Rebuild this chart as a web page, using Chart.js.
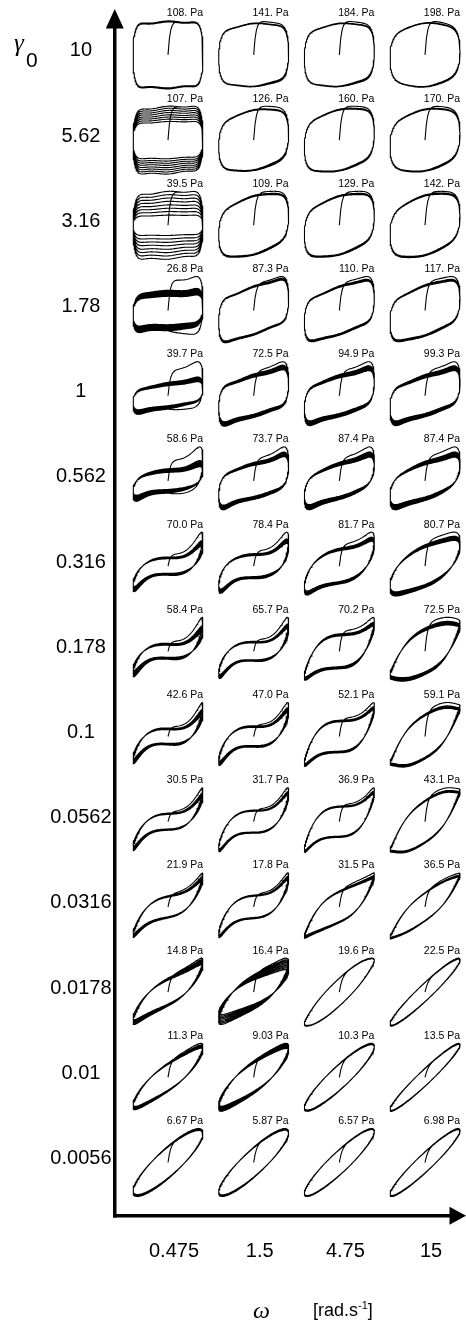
<!DOCTYPE html>
<html>
<head>
<meta charset="utf-8">
<script src="https://cdn.jsdelivr.net/npm/chart.js@4.4.1/dist/chart.umd.min.js"></script>
<style>
  html, body { margin: 0; padding: 0; background: #fff; }
  #wrap { position: relative; width: 466px; height: 1325px; }
</style>
</head>
<body>
<div id="wrap"><canvas id="pipkin"></canvas></div>
<script>
// Strain amplitudes (rows, top to bottom) and angular frequencies (columns)
const GAMMA_LABELS = ['10', '5.62', '3.16', '1.78', '1', '0.562', '0.316', '0.178', '0.1', '0.0562', '0.0316', '0.0178', '0.01', '0.0056'];
const OMEGA_LABELS = ['0.475', '1.5', '4.75', '15'];

// Peak stress of each Lissajous loop [Pa], one array per frequency, rows top to bottom
const STRESS_W0_475 = [108, 107, 39.5, 26.8, 39.7, 58.6, 70.0, 58.4, 42.6, 30.5, 21.9, 14.8, 11.3, 6.67];
const STRESS_W1_5   = [141, 126, 109, 87.3, 72.5, 73.7, 78.4, 65.7, 47.0, 31.7, 17.8, 16.4, 9.03, 5.87];
const STRESS_W4_75  = [184, 160, 129, 110, 94.9, 87.4, 81.7, 70.2, 52.1, 36.9, 31.5, 19.6, 10.3, 6.57];
const STRESS_W15    = [198, 170, 142, 117, 99.3, 87.4, 80.7, 72.5, 59.1, 43.1, 36.5, 22.5, 13.5, 6.98];

// Loop shape: in-phase (elastic) weight, its strain-stiffening 3rd harmonic,
// out-of-phase (viscous) weight and its plateau squareness; per row, per column
const ELASTIC = [
  [0.02, 0.08, 0.10, 0.10], [0.05, 0.20, 0.22, 0.20], [0.05, 0.30, 0.30, 0.30], [0.10, 0.35, 0.35, 0.35],
  [0.25, 0.35, 0.38, 0.38], [0.30, 0.40, 0.45, 0.45], [0.60, 0.55, 0.55, 0.55], [0.60, 0.60, 0.60, 0.60],
  [0.60, 0.60, 0.60, 0.65], [0.65, 0.60, 0.60, 0.70], [0.70, 0.65, 0.70, 0.75], [0.75, 0.70, 0.85, 0.90],
  [0.80, 0.75, 0.80, 0.90], [0.85, 0.85, 0.88, 0.90]
];
const STIFFENING = [
  [0, 0, 0, 0], [0, 0, 0, 0], [0, 0, 0, 0], [0.30, 0, 0, 0],
  [0.10, 0.05, 0.08, 0.05], [0.25, 0.12, 0.10, 0.08], [0.33, 0.30, 0.20, 0.08], [0.36, 0.34, 0.28, 0.08],
  [0.36, 0.34, 0.30, 0.06], [0.30, 0.32, 0.30, 0.05], [0.22, 0.28, 0.12, 0.05], [0.10, 0.08, 0, 0],
  [0.05, 0.05, 0, 0], [0, 0, 0, 0]
];
const VISCOUS = [
  [1, 1, 1, 1], [1, 1, 1, 1], [1, 1, 1, 1], [0.55, 0.80, 0.80, 0.80],
  [0.50, 0.70, 0.68, 0.68], [0.40, 0.60, 0.60, 0.60], [0.38, 0.48, 0.55, 0.60], [0.32, 0.38, 0.50, 0.55],
  [0.30, 0.36, 0.45, 0.50], [0.28, 0.36, 0.42, 0.48], [0.32, 0.36, 0.38, 0.33], [0.38, 0.45, 0.36, 0.27],
  [0.40, 0.42, 0.35, 0.25], [0.47, 0.43, 0.37, 0.30]
];
const SQUARENESS = [
  [0.22, 0.15, 0.14, 0.10], [0.22, 0.12, 0.12, 0.10], [0.22, 0.12, 0.12, 0.10], [0.22, 0.20, 0.18, 0.15],
  [0.22, 0.22, 0.20, 0.20], [0.22, 0.22, 0.18, 0.15], [0.22, 0.22, 0.10, 0.05], [0.20, 0.20, 0, -0.10],
  [0.15, 0.15, 0, -0.15], [0.10, 0.12, 0, -0.15], [0, 0.08, -0.10, -0.12], [0, 0, -0.05, 0],
  [0, 0, 0, 0], [0, 0, 0, 0]
];
// First-cycle stress overshoot and cycle-to-cycle drift of the loops
const OVERSHOOT = [
  [0, 0.06, 0.06, 0.05], [0, 0.08, 0.06, 0.06], [0, 0.06, 0.06, 0.05], [0.35, 0.05, 0.08, 0.08],
  [0.45, 0.10, 0.12, 0.12], [0.40, 0.15, 0.15, 0.15], [0.25, 0.20, 0.15, 0.12], [0.25, 0.20, 0.15, 0.12],
  [0.20, 0.15, 0.12, 0.10], [0.15, 0.12, 0.10, 0.08], [0.10, 0.10, 0.08, 0.06], [0.05, 0.05, 0, 0],
  [0.05, 0, 0, 0], [0, 0, 0, 0]
];
const CYCLE_SPREAD = [
  [0.03, 0.02, 0.02, 0.02], [0.45, 0.03, 0.03, 0.03], [0.70, 0.04, 0.04, 0.04], [0.30, 0.06, 0.06, 0.06],
  [0.25, 0.15, 0.16, 0.16], [0.30, 0.16, 0.18, 0.18], [0.20, 0.16, 0.14, 0.14], [0.25, 0.15, 0.12, 0.12],
  [0.20, 0.15, 0.10, 0.08], [0.15, 0.10, 0.08, 0.06], [0.12, 0.10, 0.08, 0.05], [0.15, 0.30, 0.02, 0.03],
  [0.10, 0.15, 0.04, 0.03], [0.06, 0.05, 0.03, 0.03]
];
// Relative position of each recorded cycle within the drift band
const CYCLE_POSITIONS = [0, 0.14, 0.28, 0.42, 0.57, 0.71, 0.85, 1];

const STRESS_BY_FREQ = [STRESS_W0_475, STRESS_W1_5, STRESS_W4_75, STRESS_W15];
const ROWS = GAMMA_LABELS.length;
const HALF_W = 0.4085;   // loop half-width in column units
const HALF_H = 0.399;    // loop half-height in row units
const LABEL_RISE = 0.487;
const STEPS = 160;

function stressShape(t, r, c) {
  const A = ELASTIC[r][c], e = STIFFENING[r][c], B = VISCOUS[r][c], v = SQUARENESS[r][c];
  const elastic = A * (Math.sin(t) - e * Math.sin(3 * t));
  const viscous = B * (Math.cos(t) - v * Math.cos(3 * t) + 0.32 * v * Math.cos(5 * t));
  return elastic + viscous;
}

function buildLoop(r, c) {
  const peak = STRESS_BY_FREQ[c][r];
  let norm = 0;
  for (let i = 0; i < 720; i++) norm = Math.max(norm, Math.abs(stressShape(2 * Math.PI * i / 720, r, c)));
  const ov = OVERSHOOT[r][c], spread = CYCLE_SPREAD[r][c];
  const cx = c, cy = ROWS - 1 - r;
  const pts = [];
  const add = (t, f) => {
    const sigma = peak * f * stressShape(t, r, c) / norm;   // stress in Pa
    pts.push({ x: cx + HALF_W * Math.sin(t), y: cy + HALF_H * sigma / peak });
  };
  // start-up from rest: stress builds up and overshoots during the first half cycle
  const half = STEPS / 2;
  for (let i = 0; i <= half; i++) {
    const t = Math.PI * i / half;
    const ramp = 1 - Math.exp(-t / 0.06);
    const m = t <= Math.PI / 2 ? 1 : 1 - ov * (1 - Math.cos(t - Math.PI / 2));
    add(t, ramp * m);
  }
  pts.push({ x: NaN, y: NaN });
  // subsequent cycles
  CYCLE_POSITIONS.forEach(pos => {
    const f = (1 - ov) * (1 - spread * pos);
    for (let i = 0; i <= STEPS; i++) add(Math.PI + 2 * Math.PI * i / STEPS, f);
    pts.push({ x: NaN, y: NaN });
  });
  return pts;
}

const datasets = [];
for (let r = 0; r < ROWS; r++) {
  for (let c = 0; c < OMEGA_LABELS.length; c++) {
    datasets.push({
      data: buildLoop(r, c),
      showLine: true,
      spanGaps: false,
      borderColor: '#000',
      borderWidth: 1.1,
      pointRadius: 0,
      tension: 0,
      clip: false
    });
  }
}

function formatStress(v) {
  let s = v.toPrecision(3);
  if (s.indexOf('.') < 0) s += '.';
  return s + ' Pa';
}

const SANS = '"Liberation Sans", Arial, Helvetica, sans-serif';
const SERIF = '"Liberation Serif", "Times New Roman", serif';

const decorations = {
  id: 'decorations',
  afterDraw(chart) {
    const { ctx, chartArea: a, scales: { x, y } } = chart;
    const bw = 3.5;
    const ax = Math.round(a.left - bw / 2) + bw / 2;
    const ay = Math.round(a.bottom - bw / 2) + bw / 2;
    ctx.save();
    ctx.fillStyle = '#000';
    // axis corner and arrowheads
    ctx.fillRect(ax - bw / 2, ay - bw / 2, bw, bw);
    ctx.beginPath();
    ctx.moveTo(ax, a.top - 19);
    ctx.lineTo(ax - 9, a.top + 0.5);
    ctx.lineTo(ax + 9, a.top + 0.5);
    ctx.closePath();
    ctx.fill();
    ctx.beginPath();
    ctx.moveTo(a.right + 16, ay);
    ctx.lineTo(a.right - 0.5, ay - 9);
    ctx.lineTo(a.right - 0.5, ay + 9);
    ctx.closePath();
    ctx.fill();

    // peak stress above each loop
    ctx.font = '10.5px ' + SANS;
    ctx.textAlign = 'right';
    ctx.textBaseline = 'middle';
    for (let r = 0; r < ROWS; r++) {
      for (let c = 0; c < OMEGA_LABELS.length; c++) {
        const px = x.getPixelForValue(c + HALF_W);
        const py = y.getPixelForValue(ROWS - 1 - r + LABEL_RISE);
        ctx.fillText(formatStress(STRESS_BY_FREQ[c][r]), px, py);
      }
    }

    // axis titles
    ctx.textAlign = 'left';
    ctx.textBaseline = 'alphabetic';
    ctx.font = 'italic 25px ' + SERIF;
    ctx.fillText('\u03b3', 14, 51);
    ctx.font = '21px ' + SANS;
    ctx.fillText('0', 26, 67);

    ctx.font = 'italic 24px ' + SERIF;
    ctx.fillText('\u03c9', 253, 1318);
    let tx = 313;
    ctx.font = '18px ' + SANS;
    ctx.fillText('[rad.s', tx, 1316);
    tx += ctx.measureText('[rad.s').width;
    ctx.font = '11px ' + SANS;
    ctx.fillText('-1', tx, 1309);
    tx += ctx.measureText('-1').width;
    ctx.font = '18px ' + SANS;
    ctx.fillText(']', tx, 1316);
    ctx.restore();
  }
};

new Chart(document.getElementById('pipkin'), {
  type: 'scatter',
  data: { datasets },
  options: {
    responsive: true,
    maintainAspectRatio: false,
    animation: false,
    events: [],
    layout: { padding: { top: 28, right: 16, bottom: 0, left: 0 } },
    plugins: { legend: { display: false }, tooltip: { enabled: false } },
    scales: {
      x: {
        type: 'linear',
        min: -0.6245,
        max: 3.2917,
        afterBuildTicks: s => { s.ticks = OMEGA_LABELS.map((_, i) => ({ value: i })); },
        afterFit: s => { s.height = 109; },
        ticks: {
          autoSkip: false,
          maxRotation: 0,
          padding: 23,
          labelOffset: 6,
          color: '#000',
          font: { family: SANS, size: 20 },
          callback: (v, i) => OMEGA_LABELS[i]
        },
        grid: { display: false, drawTicks: false },
        border: { display: true, width: 3.5, color: '#000' }
      },
      y: {
        type: 'linear',
        min: -0.6279,
        max: 13.3158,
        afterBuildTicks: s => { s.ticks = GAMMA_LABELS.map((_, i) => ({ value: i })); },
        afterFit: s => { s.width = 114.5; },
        ticks: {
          autoSkip: false,
          padding: 3,
          crossAlign: 'center',
          labelOffset: -4,
          color: '#000',
          font: { family: SANS, size: 20 },
          callback: (v, i) => GAMMA_LABELS[ROWS - 1 - i]
        },
        grid: { display: false, drawTicks: false },
        border: { display: true, width: 3.5, color: '#000' }
      }
    }
  },
  plugins: [decorations]
});
</script>
</body>
</html>
